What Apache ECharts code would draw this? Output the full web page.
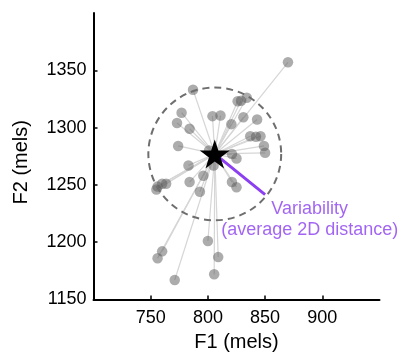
<!DOCTYPE html>
<html>
<head>
<meta charset="utf-8">
<script src="https://cdn.jsdelivr.net/npm/echarts@6/dist/echarts.min.js"></script>
<style>
  html, body { margin: 0; padding: 0; background: #fff; }
  #main { width: 399px; height: 355px; }
</style>
</head>
<body>
<div id="main"></div>
<script>
// individual productions (F1, F2 in mels)
var f1Values = [870, 787, 826, 829, 834, 777, 804, 811, 773, 784, 820.5, 831, 843, 837, 842, 846,
    774, 849, 850, 821, 825, 805, 783, 801, 796, 760, 763.5, 755, 756, 784, 793, 821, 825,
    800, 760, 756, 809, 805.5, 771];
var f2Values = [1357, 1333, 1323, 1323.5, 1326, 1313, 1310, 1310.5, 1304, 1299, 1303, 1309, 1307, 1292.5, 1292, 1292.5,
    1284, 1284, 1278, 1277, 1273, 1267, 1267, 1280, 1258, 1251, 1251, 1246, 1248.5, 1252.5, 1244, 1252.5, 1248,
    1201, 1192, 1186, 1187, 1172, 1167];
// centroid and average distance
var centroid = [806, 1277];
var avgDistance = 58;
var variabilityEnd = [850, 1241.5];
var xTicks = [750, 800, 850, 900];
var yTicks = [1200, 1250, 1300, 1350];
var yLabels = [1150, 1200, 1250, 1300, 1350];
var noteText = ['Variability', '(average 2D distance)'];
var notePos = [889, 1220];

var font = 'Liberation Sans, Arial, Helvetica, sans-serif';
var purple = '#8b3ff0';

var points = f1Values.map(function (x, i) { return [x, f2Values[i]]; });

var myChart = echarts.init(document.getElementById('main'));
var option = {
    animation: false,
    grid: { left: 93.5, right: 19.5, top: 13, bottom: 55.5, outerBoundsMode: 'none' },
    xAxis: {
        type: 'value', min: 700, max: 950, interval: 50,
        name: 'F1 (mels)', nameLocation: 'middle', nameGap: 31,
        nameTextStyle: { fontFamily: font, fontSize: 20, color: '#000' },
        axisLine: { lineStyle: { color: '#000', width: 2 } },
        axisTick: { inside: true, length: 4, customValues: xTicks, lineStyle: { color: '#000', width: 1.5 } },
        axisLabel: { customValues: xTicks, margin: 10, fontFamily: font, fontSize: 18, color: '#000' },
        splitLine: { show: false }
    },
    yAxis: {
        type: 'value', min: 1150, max: 1400, interval: 50,
        name: 'F2 (mels)', nameLocation: 'middle', nameGap: 62,
        nameTextStyle: { fontFamily: font, fontSize: 20, color: '#000', padding: [0, 12, 0, 0] },
        axisLine: { show: true, lineStyle: { color: '#000', width: 2 } },
        axisTick: { show: true, inside: true, length: 4, customValues: yTicks, lineStyle: { color: '#000', width: 1.5 } },
        axisLabel: {
            customValues: yLabels, margin: 7, fontFamily: font, fontSize: 18, color: '#000',
            formatter: function (v) { return String(v); }
        },
        splitLine: { show: false }
    },
    series: [
        {
            // spokes from centroid to each token
            type: 'lines', coordinateSystem: 'cartesian2d', z: 1,
            lineStyle: { color: '#d6d6d6', width: 1.2, opacity: 1 },
            data: points.map(function (p) { return { coords: [centroid, p] }; })
        },
        {
            type: 'scatter', z: 2, symbolSize: 10.5,
            itemStyle: { color: 'rgba(90,90,90,0.5)', opacity: 1 },
            data: points
        },
        {
            // dashed circle of radius = average distance
            type: 'custom', z: 3,
            renderItem: function (params, api) {
                var c = api.coord([api.value(0), api.value(1)]);
                var s = api.size([api.value(2), api.value(2)]);
                return {
                    type: 'circle',
                    shape: { cx: c[0], cy: c[1], r: (s[0] + s[1]) / 2 },
                    style: { fill: 'none', stroke: '#6e6e6e', lineWidth: 2, lineDash: [7, 5] }
                };
            },
            data: [[centroid[0], centroid[1], avgDistance]]
        },
        {
            type: 'line', z: 4, symbol: 'none',
            lineStyle: { color: purple, width: 3 },
            data: [centroid, variabilityEnd]
        },
        {
            type: 'scatter', z: 5, symbolSize: [30, 29],
            symbol: 'path://M50,0 L61.8,35.4 L99,35.4 L69,57.3 L80.3,92.7 L50,70.8 L19.7,92.7 L31,57.3 L1,35.4 L38.2,35.4 Z',
            itemStyle: { color: '#000', opacity: 1 },
            data: [centroid]
        },
        {
            type: 'scatter', z: 6, symbolSize: 0,
            label: {
                show: true, position: [0, 0], align: 'center', verticalAlign: 'middle',
                formatter: noteText.join('\n'),
                fontFamily: font, fontSize: 18, lineHeight: 21, color: purple
            },
            data: [notePos]
        }
    ]
};
myChart.setOption(option);
window.addEventListener('resize', function () {
    myChart.resize();
});
</script>
</body>
</html>
